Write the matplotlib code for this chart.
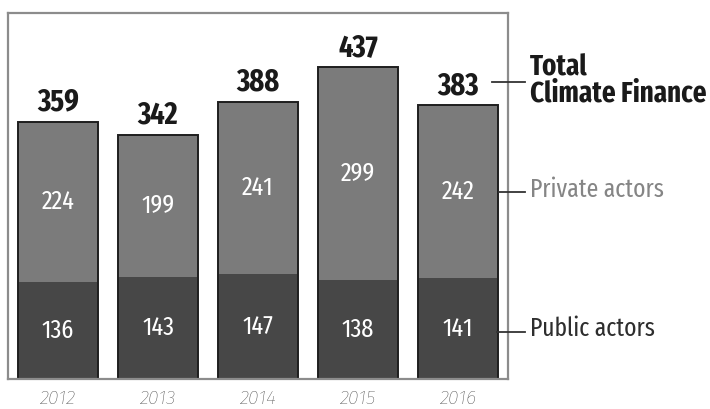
import matplotlib
matplotlib.use("Agg")
import matplotlib.pyplot as plt
from matplotlib.lines import Line2D

years = ["2012", "2013", "2014", "2015", "2016"]
public = [136, 143, 147, 138, 141]
private = [224, 199, 241, 299, 242]
total = [359, 342, 388, 437, 383]

PRIVATE_COLOR = "#7b7b7b"
PUBLIC_COLOR = "#474747"
NARROW = ["Fira Sans Extra Condensed", "Open Sans", "DejaVu Sans"]
plt.rcParams["font.family"] = NARROW

W, H = 710, 409
fig = plt.figure(figsize=(W / 100, H / 100), dpi=100)
ax = fig.add_axes([8 / W, 1 - 379 / H, 500 / W, 366 / H])

x = range(len(years))
ax.bar(x, public, width=0.8, color=PUBLIC_COLOR, linewidth=0)
ax.bar(x, private, bottom=public, width=0.8, color=PRIVATE_COLOR, linewidth=0)
# dark outline around each full stack
ax.bar(x, [p + q for p, q in zip(public, private)], width=0.8, fill=False,
       edgecolor="#1e1e1e", linewidth=1.4)

for i in x:
    ax.text(i, public[i] / 2, str(public[i]), ha="center", va="center",
            color="white", fontsize=19)
    ax.text(i, public[i] + private[i] / 2, str(private[i]), ha="center", va="center",
            color="white", fontsize=19)
    ax.annotate(str(total[i]), (i, public[i] + private[i]), xytext=(0, 3),
                textcoords="offset points", ha="center", va="bottom",
                fontsize=22, fontweight="bold", color="#1a1a1a")

ax.set_xlim(-0.5, 4.5)
ax.set_ylim(0, 512)
ax.set_xticks([])
ax.set_yticks([])
for s in ax.spines.values():
    s.set_color("#8c8c8c")
    s.set_linewidth(1.6)

def fx(px):
    return px / W

def fy(py):
    return 1 - py / H

for i, yr in enumerate(years):
    ax.annotate(yr, (i, 0), xytext=(0, -14), textcoords="offset points",
                ha="center", va="center", fontsize=14, style="italic",
                fontweight="light", color="#3c3c3c", family=["Fira Sans", "Open Sans"],
                annotation_clip=False)

# right-hand series labels with short leader lines
for y0, x0 in [(82, 492), (192, 499), (332, 497)]:
    fig.add_artist(Line2D([fx(x0), fx(525)], [fy(y0), fy(y0)], color="#333333", lw=1.3))

fig.text(fx(530), fy(81), "Total\nClimate Finance", ha="left", va="center",
         fontsize=21, fontweight="bold", color="#1a1a1a", linespacing=0.92)
fig.text(fx(530), fy(190), "Private actors", ha="left", va="center",
         fontsize=18.5, color="#858585")
fig.text(fx(530), fy(329), "Public actors", ha="left", va="center",
         fontsize=18.5, color="#2e2e2e")

fig.savefig("out.png", dpi=100)
